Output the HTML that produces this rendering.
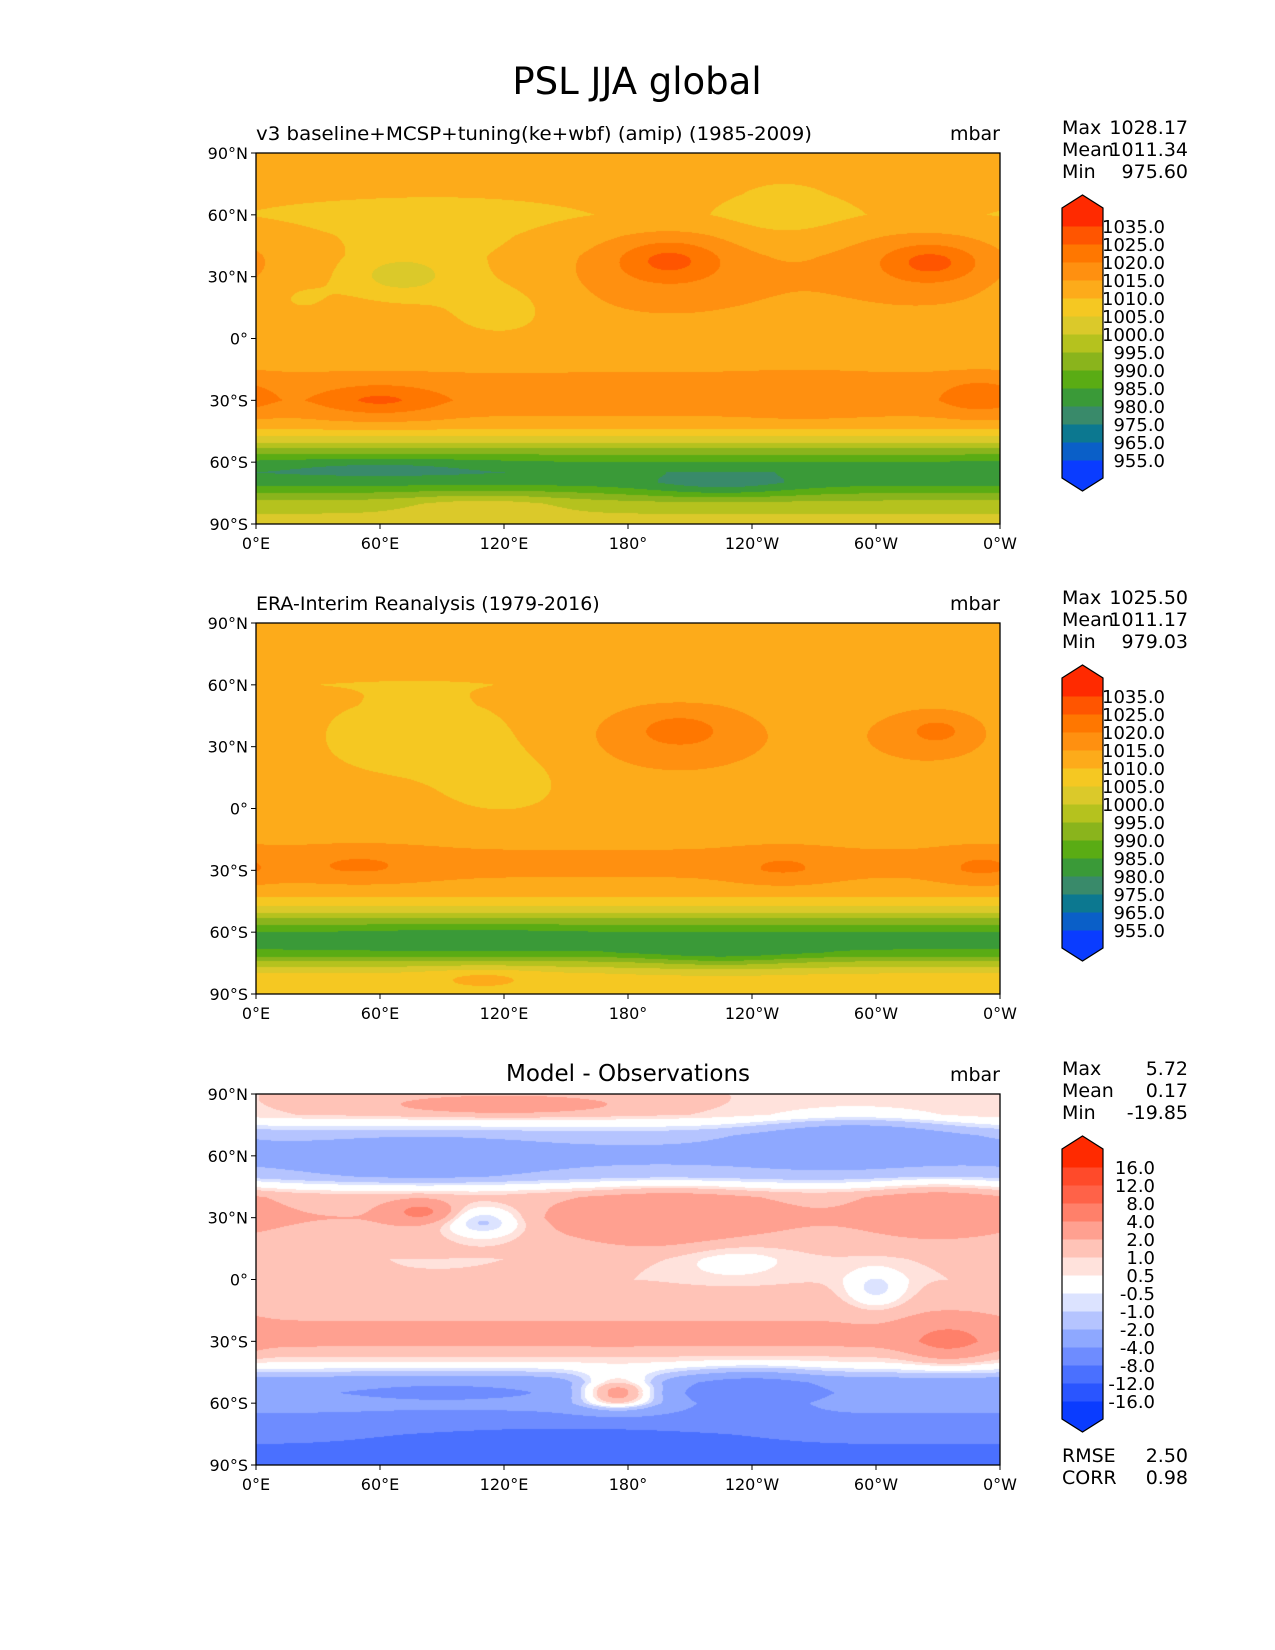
<!DOCTYPE html>
<html><head><meta charset="utf-8">
<style>
html,body{margin:0;padding:0;background:#fff;}
#root{position:relative;width:1275px;height:1650px;overflow:hidden;font-family:"DejaVu Sans","Liberation Sans",sans-serif;}
canvas{position:absolute;}
svg{position:absolute;left:0;top:0;}
</style></head>
<body>
<div id="root">
<canvas id="c1" width="744" height="371" style="left:256px;top:153px"></canvas>
<canvas id="c2" width="744" height="371" style="left:256px;top:623px"></canvas>
<canvas id="c3" width="744" height="371" style="left:256px;top:1094px"></canvas>
<svg id="ov" width="1275" height="1650"></svg>
</div>
<script>
// ---- data ----
const profLats = [90,80,70,60,50,40,30,20,10,0,-10,-20,-30,-40,-45,-50,-55,-60,-65,-70,-75,-80,-90];
const modelProfile = [1012,1012,1011,1009,1011,1012,1012,1012,1012,1012,1013,1016,1018,1014,1009,1001,992,985,981,983,990,997,1003];
const obsProfile   = [1011,1011,1011,1010,1011,1011,1011,1011,1011,1011,1012,1015,1016,1013,1008,1001,992,985,983,986,997,1005,1009];
const diffProfile  = [1,1,-1.5,-2.5,-1.5,1.5,2,1.5,1,1,1.5,2,2.5,0.5,-1,-3,-3.5,-3,-4,-5,-7,-8,-9];
// blobs: [lon, lat, lonRadius, latRadius, amplitude]
const modelBlobs = [[200,33,65,25,6],[200,38,24,10,9],[322,35,50,22,6],[327,37,22,9,9],[60,-30,30,8,8],[265,-28,30,10,2],[350,-28,18,8,7],
  [120,15,30,15,-4],[90,45,60,20,-3],[70,30,25,10,-8],[20,20,20,10,-3],[255,60,30,20,-3],[320,75,20,8,3],[60,-62,60,5,-4],[225,-72,40,6,-6],[110,-80,40,6,5]];
const obsBlobs = [[205,35,55,22,7],[205,38,18,7,6],[325,35,40,18,6],[330,38,15,7,5],[50,-27,35,8,5],[255,-28,25,8,5],[350,-28,20,8,5],
  [80,35,40,15,-5],[120,15,30,15,-3],[110,-82,30,5,5],[225,-72,40,6,-5],[100,-63,50,5,-3]];
const diffBlobs = [[200,30,45,15,2],[330,35,35,15,1.5],[175,-55,20,8,6],[240,-55,30,10,-3],[335,-30,20,10,2.5],[110,28,20,8,-3],
  [290,70,50,12,-2],[120,85,60,5,2],[150,-78,70,7,-4],[90,-55,60,8,-1],[300,-5,15,10,-2],[230,10,30,10,-1],[80,33,15,5,3],[80,58,50,10,-1.5]];
const pslBounds = [955,965,975,980,985,990,995,1000,1005,1010,1015,1020,1025,1035];
const pslColors = ['#0a3cff','#0a5fc8','#0c7890','#398a6a','#3a9a38','#5aac14','#8ab41c','#b5c21e','#dbc92a','#f5c822','#fdab1a','#ff9010','#ff7700','#ff5500','#ff2a00'];
const diffBounds = [-16,-12,-8,-4,-2,-1,-0.5,0.5,1,2,4,8,12,16];
const diffColors = ['#0a3cff','#2a55ff','#4a70ff','#6e8cff','#8ea8ff','#b5c4ff','#dce3ff','#ffffff','#ffe2dc','#ffc3b7','#ffa090','#ff806a','#ff6248','#ff4a2a','#ff2a00'];
const pslLabels = ['955.0','965.0','975.0','980.0','985.0','990.0','995.0','1000.0','1005.0','1010.0','1015.0','1020.0','1025.0','1035.0'];
const diffLabels = ['-16.0','-12.0','-8.0','-4.0','-2.0','-1.0','-0.5','0.5','1.0','2.0','4.0','8.0','12.0','16.0'];
const xTicks = [0,60,120,180,240,300,360];
const xTickLabels = ['0°E','60°E','120°E','180°','120°W','60°W','0°W'];
const yTicks = [90,60,30,0,-30,-60,-90];
const yTickLabels = ['90°N','60°N','30°N','0°','30°S','60°S','90°S'];
const stats1 = [['Max','1028.17'],['Mean','1011.34'],['Min','975.60']];
const stats2 = [['Max','1025.50'],['Mean','1011.17'],['Min','979.03']];
const stats3 = [['Max','5.72'],['Mean','0.17'],['Min','-19.85']];

function hex(c){return [parseInt(c.substr(1,2),16),parseInt(c.substr(3,2),16),parseInt(c.substr(5,2),16)];}
function interp(lat,prof){
  for(let i=0;i<profLats.length-1;i++){
    if(lat<=profLats[i]&&lat>=profLats[i+1]){const t=(profLats[i]-lat)/(profLats[i]-profLats[i+1]);return prof[i]+t*(prof[i+1]-prof[i]);}
  }return prof[prof.length-1];
}
function drawMap(id,prof,blobs,bounds,colors){
  const cv=document.getElementById(id),ctx=cv.getContext('2d'),W=cv.width,H=cv.height;
  const img=ctx.createImageData(W,H),rgb=colors.map(hex);
  for(let py=0;py<H;py++){
    const lat=90-180*(py+0.5)/H,base=interp(lat,prof);
    for(let px=0;px<W;px++){
      const lon=360*(px+0.5)/W;let v=base;
      for(const b of blobs){let dl=Math.abs(lon-b[0]);if(dl>180)dl=360-dl;const dx=dl/b[2],dy=(lat-b[1])/b[3];v+=b[4]*Math.exp(-(dx*dx+dy*dy));}
      let k=0;while(k<bounds.length&&v>=bounds[k])k++;
      const c=rgb[k],o=(py*W+px)*4;img.data[o]=c[0];img.data[o+1]=c[1];img.data[o+2]=c[2];img.data[o+3]=255;
    }
  }
  ctx.putImageData(img,0,0);
}
drawMap('c1',modelProfile,modelBlobs,pslBounds,pslColors);
drawMap('c2',obsProfile,obsBlobs,pslBounds,pslColors);
drawMap('c3',diffProfile,diffBlobs,diffBounds,diffColors);

const NS='http://www.w3.org/2000/svg',ov=document.getElementById('ov');
function el(tag,attrs,txt){const e=document.createElementNS(NS,tag);for(const k in attrs)e.setAttribute(k,attrs[k]);if(txt!==undefined)e.textContent=txt;ov.appendChild(e);return e;}
const X0=256,X1=1000,PH=371;
function xs(lon){return X0+(X1-X0)*lon/360;}
function ys(top,lat){return top+PH*(90-lat)/180;}

let t=el('text',{x:637,y:94,'font-size':37,'text-anchor':'middle'},'PSL JJA global');


function panel(top,title,centerTitle,stats,labels,colors,key,extra){
  const f=el('rect',{x:X0,y:top,width:X1-X0,height:PH,fill:'none',stroke:'#000','stroke-width':1.3});
  
  let st;
  if(centerTitle) st=el('text',{x:628,y:top-13,'font-size':23,'text-anchor':'middle'},title);
  else if(key==='model') st=el('text',{x:X0,y:top-13,'font-size':19,textLength:556,lengthAdjust:'spacingAndGlyphs'},title);
  else st=el('text',{x:X0,y:top-13,'font-size':19},title);
  
  const u=el('text',{x:X1,y:top-13,'font-size':19,'text-anchor':'end'},'mbar');
  
  xTicks.forEach((v,i)=>{
    const tk=el('line',{x1:xs(v),x2:xs(v),y1:top+PH,y2:top+PH+5,stroke:'#000'});
    
    const tl=el('text',{x:xs(v),y:top+PH+25,'font-size':16,'text-anchor':'middle'},xTickLabels[i]);
    
  });
  yTicks.forEach((v,i)=>{
    const tk=el('line',{x1:X0-5,x2:X0,y1:ys(top,v),y2:ys(top,v),stroke:'#000'});
    
    const tl=el('text',{x:X0-8,y:ys(top,v)+6,'font-size':16,'text-anchor':'end'},yTickLabels[i]);
    
  });
  stats.forEach((s,i)=>{
    const a=el('text',{x:1062,y:top-19+i*22,'font-size':19},s[0]);
    
    const b=el('text',{x:1188,y:top-19+i*22,'font-size':19,'text-anchor':'end'},s[1]);
    
  });
  const cbTop=top+55,bh=18,cx0=1062,cx1=1103,n=colors.length;
  for(let i=0;i<n;i++){
    const r=el('rect',{x:cx0,y:cbTop+(n-1-i)*bh,width:cx1-cx0,height:bh+0.5,fill:colors[i]});
    
  }
  const tp=el('polygon',{points:`${cx0},${cbTop} ${(cx0+cx1)/2},${cbTop-13} ${cx1},${cbTop}`,fill:colors[n-1]});
  
  const bt=el('polygon',{points:`${cx0},${cbTop+n*bh} ${(cx0+cx1)/2},${cbTop+n*bh+13} ${cx1},${cbTop+n*bh}`,fill:colors[0]});
  
  const ol=el('polygon',{points:`${cx0},${cbTop} ${(cx0+cx1)/2},${cbTop-13} ${cx1},${cbTop} ${cx1},${cbTop+n*bh} ${(cx0+cx1)/2},${cbTop+n*bh+13} ${cx0},${cbTop+n*bh}`,fill:'none',stroke:'#000','stroke-width':1.2});
  
  const rx=key==='diff'?1155:1165;
  labels.forEach((lb,i)=>{
    const y=cbTop+(n-1-i)*bh;
    const l=el('text',{x:rx,y:y+7,'font-size':18,'text-anchor':'end'},lb);
    
  });
  if(extra){extra.forEach((s,i)=>{
    const a=el('text',{x:1062,y:top+PH-3+i*22,'font-size':19},s[0]);
    
    const b=el('text',{x:1188,y:top+PH-3+i*22,'font-size':19,'text-anchor':'end'},s[1]);
    
  });}
}
panel(153,'v3 baseline+MCSP+tuning(ke+wbf) (amip) (1985-2009)',false,stats1,pslLabels,pslColors,'model');
panel(623,'ERA-Interim Reanalysis (1979-2016)',false,stats2,pslLabels,pslColors,'obs');
panel(1094,'Model - Observations',true,stats3,diffLabels,diffColors,'diff',[['RMSE','2.50'],['CORR','0.98']]);
</script>
</body></html>
